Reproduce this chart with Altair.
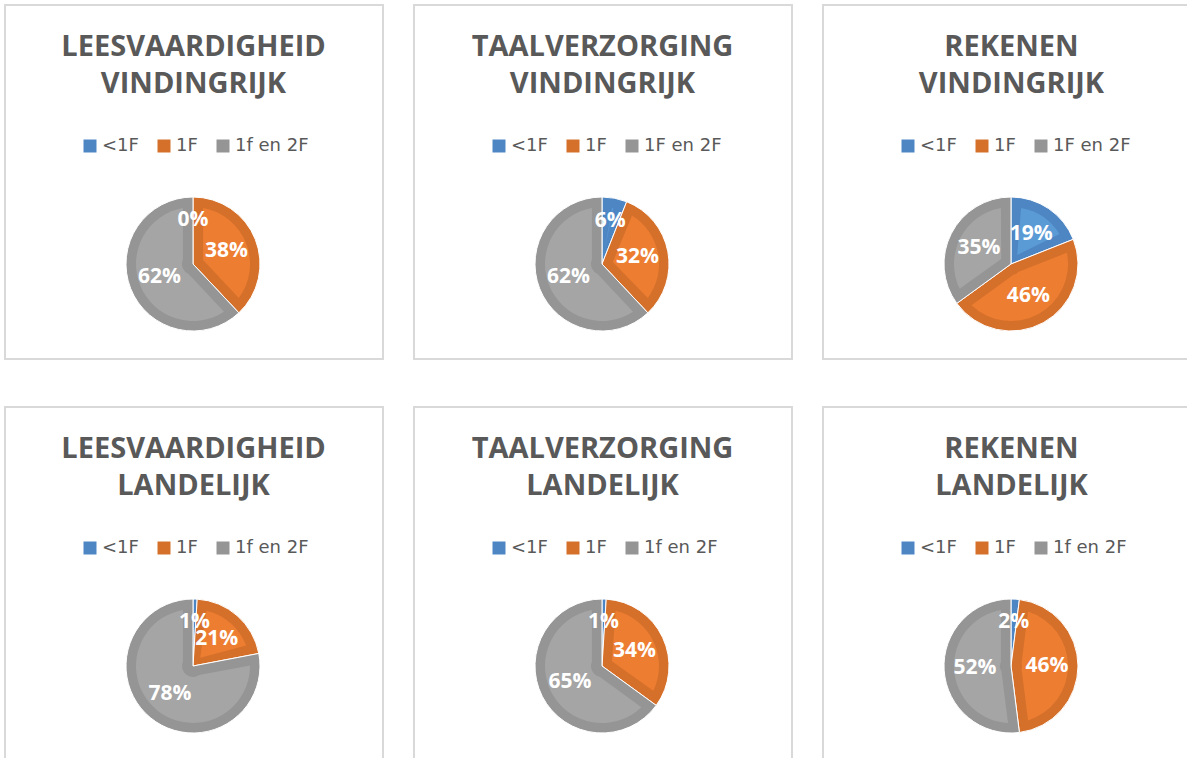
import altair as alt
import pandas as pd

# ---- data ----
title_line1 = ["LEESVAARDIGHEID", "TAALVERZORGING", "REKENEN",
               "LEESVAARDIGHEID", "TAALVERZORGING", "REKENEN"]
title_line2 = ["VINDINGRIJK", "VINDINGRIJK", "VINDINGRIJK",
               "LANDELIJK", "LANDELIJK", "LANDELIJK"]
legend_labels = [
    ["<1F", "1F", "1f en 2F"],
    ["<1F", "1F", "1F en 2F"],
    ["<1F", "1F", "1F en 2F"],
    ["<1F", "1F", "1f en 2F"],
    ["<1F", "1F", "1f en 2F"],
    ["<1F", "1F", "1f en 2F"],
]
pct_values = [
    [0, 38, 62],
    [6, 32, 62],
    [19, 46, 35],
    [1, 21, 78],
    [1, 34, 65],
    [2, 46, 52],
]

# ---- styles ----
dark = ["#4E86C4", "#D5702B", "#959595"]
light = ["#5B9BD5", "#ED7D31", "#A5A5A5"]
BORDER = "#d9d9d9"
TEXT_GREY = "#595959"
W, H = 380, 356          # full panels
W_CUT, H_CUT = 365, 352  # panels cut off by the right / bottom edge
CX, CY = 189, 260


def panel(i):
    labels = legend_labels[i]
    w = W_CUT if i % 3 == 2 else W
    h = H_CUT if i >= 3 else H
    ext_x = 6 if i % 3 == 2 else -1
    ext_y = 6 if i >= 3 else -1

    df = pd.DataFrame({
        "cat": labels,
        "pct": pct_values[i],
        "order": list(range(len(labels))),
    })
    df["label"] = df["pct"].astype(str) + "%"

    base = alt.Chart(df).encode(
        theta=alt.Theta("pct:Q", stack=True),
        order=alt.Order("order:Q"),
        x=alt.value(CX),
        y=alt.value(CY),
    )
    outer = base.mark_arc(outerRadius=67, stroke="white", strokeWidth=1).encode(
        color=alt.Color(
            "cat:N",
            scale=alt.Scale(domain=labels, range=dark),
            legend=alt.Legend(
                title=None, orient="none", legendX=77, legendY=133,
                direction="horizontal", symbolType="square", symbolSize=169,
                symbolStrokeWidth=0, symbolOpacity=1, labelFontSize=18,
                labelFont="DejaVu Sans", labelColor=TEXT_GREY,
                columnPadding=16, labelOffset=3,
            ),
        )
    )
    inner = base.mark_arc(outerRadius=57, innerRadius=11, padAngle=0.35).encode(
        fill=alt.Fill("cat:N", scale=alt.Scale(domain=labels, range=light), legend=None)
    )
    # labels at each slice's middle angle; small slices pushed a little further
    # out, as Excel's "best fit" does
    text = alt.Chart(df).transform_window(
        cum="sum(pct)", sort=[alt.SortField("order")],
        frame=[None, 0],
    ).transform_joinaggregate(
        total="sum(pct)"
    ).transform_calculate(
        mid="2 * PI * (datum.cum - datum.pct / 2) / datum.total",
        lr="datum.pct < 10 ? 44 : 36",
    ).mark_text(
        fontSize=21, fontWeight="bold", font="Open Sans", color="white"
    ).encode(
        theta=alt.Theta("mid:Q", scale=None, stack=None),
        radius=alt.Radius("lr:Q", scale=None, stack=None),
        text="label:N",
        x=alt.value(CX),
        y=alt.value(CY),
    )

    tdf = pd.DataFrame({"t": [title_line1[i] + "\n" + title_line2[i]]})
    tbase = alt.Chart(tdf)
    frame = tbase.mark_rect(
        fillOpacity=0, stroke=BORDER, strokeWidth=2, clip=True
    ).encode(
        x=alt.value(1), x2=alt.value(w + ext_x),
        y=alt.value(1), y2=alt.value(h + ext_y),
    )
    title = tbase.mark_text(
        lineBreak="\n", lineHeight=37, baseline="alphabetic", align="center",
        fontSize=29, fontWeight="bold", font="Open Sans", color=TEXT_GREY,
    ).encode(text="t:N", x=alt.value(W / 2 - 0.5), y=alt.value(52))

    return alt.layer(frame, title, outer, inner, text).properties(width=w, height=h)


row1 = alt.hconcat(panel(0), panel(1), panel(2), spacing=29).resolve_scale(
    color="independent", fill="independent")
row2 = alt.hconcat(panel(3), panel(4), panel(5), spacing=29).resolve_scale(
    color="independent", fill="independent")

chart = alt.vconcat(row1, row2, spacing=46).resolve_scale(
    color="independent", fill="independent"
).properties(
    background="white",
    padding={"left": 4, "top": 4, "right": 0, "bottom": 0},
).configure_view(stroke=None)

chart.save("out.html", embed_options={"renderer": "svg", "actions": False})
